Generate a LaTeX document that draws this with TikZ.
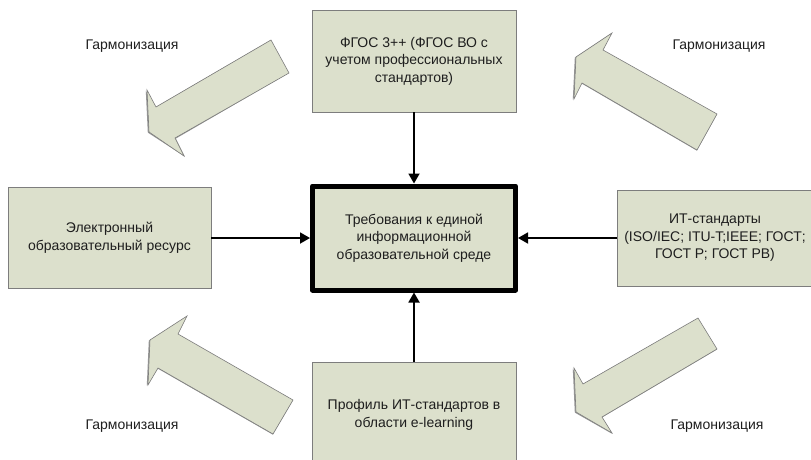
\documentclass[tikz,border=0pt]{standalone}
\usepackage{fontspec}
\setmainfont{Liberation Sans}
\usetikzlibrary{arrows.meta}
\definecolor{boxfill}{RGB}{220,224,204}
\definecolor{boxline}{RGB}{125,125,125}
\definecolor{txt}{RGB}{30,30,30}
\definecolor{shade}{RGB}{150,150,150}
\begin{document}
\begin{tikzpicture}[x=1pt,y=-1pt,
  box/.style={draw=boxline, line width=0.8pt, fill=boxfill, align=center, text=txt,
    font=\fontsize{14}{17.5}\selectfont, inner sep=0pt},
  mainbox/.style={box, draw=black, line width=5pt, line join=round},
  conn/.style={draw=black, line width=1.8pt, -{Triangle[length=10pt,width=11pt]}},
  harm/.style={fill=boxfill, draw=boxline, line width=0.6pt},
  harmshadow/.style={fill=shade},
  lbl/.style={text=txt, font=\fontsize{14}{17}\selectfont, inner sep=0pt}
]
\path[use as bounding box, clip] (0,0) rectangle (811,460);
\fill[white] (0,0) rectangle (811,460);

% boxes
\node[box, minimum width=204pt, minimum height=102pt] (fgos) at (414,61)
  {ФГОС 3++ (ФГОС ВО с\\учетом профессиональных\\стандартов)};
\node[mainbox, minimum width=203pt, minimum height=104pt] (req) at (414,238)
  {Требования к единой\\информационной\\образовательной среде};
\node[box, minimum width=203pt, minimum height=101pt] (eor) at (109.5,238)
  {Электронный\\образовательный ресурс};
\node[box, minimum width=196pt, minimum height=96pt] (it) at (715,238)
  {ИТ-стандарты\\(ISO/IEC; ITU-T;IEEE; ГОСТ;\\ГОСТ Р; ГОСТ РВ)};
\node[box, minimum width=204pt, minimum height=106pt] (prof) at (414,415)
  {Профиль ИТ-стандартов в\\области e-learning};

% connectors
\draw[conn] (fgos) -- (req);
\draw[conn] (prof) -- (req);
\draw[conn] (eor) -- (req);
\draw[conn] (it) -- (req);

% harmonisation block arrows (shadows)
\fill[harmshadow] ([shift={(-1.2,0.6)}]271,40) -- ++(18,33) -- (175.8,138.6) -- (184.8,156.6) -- (147.8,132.6) -- (145.8,90.6) -- (154.8,107.6) -- cycle;
\fill[harmshadow] (610.8,33.6) -- (602.8,50.6) -- (716.8,114.6) -- (696.8,150.6) -- (581.8,83.6) -- (572.8,99.6) -- (574.8,57.6) -- cycle;
\fill[harmshadow] (186.8,316.6) -- (177.8,334.6) -- (292.8,400.6) -- (272.8,434.6) -- (157.8,368.6) -- (146.8,385.6) -- (148.8,340.6) -- cycle;
\fill[harmshadow] (697.8,318.6) -- (716.8,349.6) -- (601.8,417.6) -- (611.8,433.6) -- (574.8,412.6) -- (572.8,368.6) -- (581.8,384.6) -- cycle;

% harmonisation block arrows
\draw[harm] (271,40) -- (289,73) -- (175,138) -- (184,156) -- (149,132) -- (147,90) -- (156,107) -- cycle;
\draw[harm] (612,33) -- (603,50) -- (717,114) -- (697,150) -- (582,83) -- (574,99) -- (576,57) -- cycle;
\draw[harm] (187,316) -- (178,334) -- (293,400) -- (273,434) -- (158,368) -- (148,385) -- (150,340) -- cycle;
\draw[harm] (698,318) -- (717,349) -- (602,417) -- (612,433) -- (576,412) -- (574,368) -- (583,384) -- cycle;

% labels
\node[lbl] (h1) at (132,46) {Гармонизация};
\node[lbl] (h2) at (719,46) {Гармонизация};
\node[lbl] (h3) at (132,426) {Гармонизация};
\node[lbl] (h4) at (717,426) {Гармонизация};
\end{tikzpicture}
\end{document}
